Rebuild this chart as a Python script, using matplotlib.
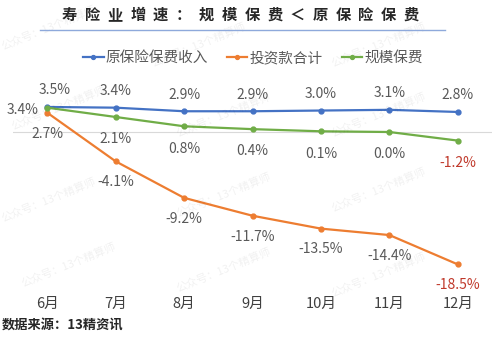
import matplotlib
matplotlib.use("Agg")
import matplotlib.pyplot as plt

plt.rcParams['font.family'] = ['Noto Sans CJK SC', 'DejaVu Sans']

months = ["6月", "7月", "8月", "9月", "10月", "11月", "12月"]
yuan_baofei = [3.5, 3.4, 2.9, 2.9, 3.0, 3.1, 2.8]       # 原保险保费收入
touzikuan = [2.7, -4.1, -9.2, -11.7, -13.5, -14.4, -18.5]  # 投资款合计
guimo = [3.4, 2.1, 0.8, 0.4, 0.1, 0.0, -1.2]              # 规模保费
names = ["原保险保费收入", "投资款合计", "规模保费"]

title = "寿险业增速：规模保费＜原保险保费"
source = "数据来源：13精资讯"
watermark = "公众号：13个精算师"

c_blue = "#4472C4"
c_orange = "#ED7D31"
c_green = "#70AD47"
c_text = "#595959"
c_red = "#C0392B"

W, H = 500, 341
fig = plt.figure(figsize=(W / 100, H / 100), dpi=100)
ax = fig.add_axes([13 / W, 1 - 283 / H, (492 - 13) / W, (283 - 90) / H])

x = list(range(len(months)))
ax.axhline(0, color="#d9d9d9", lw=0.8, zorder=1)
l1, = ax.plot(x, yuan_baofei, color=c_blue, lw=1.6, marker="o", ms=3.5, zorder=3)
l2, = ax.plot(x, touzikuan, color=c_orange, lw=1.6, marker="o", ms=3.5, zorder=3)
l3, = ax.plot(x, guimo, color=c_green, lw=1.6, marker="o", ms=3.5, zorder=3)

ax.set_xlim(-0.5, 6.5)
ax.set_ylim(-21.1, 5.87)
ax.set_yticks([])
ax.set_xticks(x)
ax.set_xticklabels(months, fontsize=10.5, color="#404040")
ax.tick_params(axis="x", length=0, pad=10)
for s in ax.spines.values():
    s.set_visible(False)

fs = 10
for i, v in enumerate(yuan_baofei):
    dx = 5 if i == 0 else 0
    ax.annotate(f"{v:.1f}%", (i, v), xytext=(dx, 12), textcoords="offset points",
                ha="center", va="center", fontsize=fs, color=c_text)
for i, v in enumerate(guimo):
    if i == 0:
        ax.annotate(f"{v:.1f}%", (i, v), xytext=(-18, -2), textcoords="offset points",
                    ha="center", va="center", fontsize=fs, color=c_text)
    else:
        col = c_red if i == len(guimo) - 1 else c_text
        ax.annotate(f"{v:.1f}%", (i, v), xytext=(0, -16), textcoords="offset points",
                    ha="center", va="center", fontsize=fs, color=col)
for i, v in enumerate(touzikuan):
    col = c_red if i == len(touzikuan) - 1 else c_text
    ax.annotate(f"{v:.1f}%", (i, v), xytext=(0, -15), textcoords="offset points",
                ha="center", va="center", fontsize=fs, color=col)

# spaced-out title
x0, x1 = 69.5, 411.5
step = (x1 - x0) / (len(title) - 1)
for k, ch in enumerate(title):
    fig.text((x0 + k * step) / W, 1 - 15 / H, ch, ha="center", va="center",
             fontsize=11, fontweight="bold", color="#262626")
fig.add_artist(plt.Line2D([40 / W, 445 / W], [1 - 30 / H, 1 - 30 / H],
                          color="#8EA9DB", lw=1.0, transform=fig.transFigure))

fig.legend([l1, l2, l3], names, loc="center", bbox_to_anchor=(253 / W, 1 - 58 / H),
           ncol=3, frameon=False, fontsize=10.5, handlelength=1.4, handletextpad=0.15,
           columnspacing=1.3, labelcolor=c_text, markerscale=0.8)

fig.text(2 / W, 1 - 325 / H, source, ha="left", va="center", fontsize=9.5,
         fontweight="bold", color="#262626")

# faint watermarks
for (wx, wy) in [(0, 28), (150, 45), (330, 45), (10, 108), (175, 115),
                 (330, 115), (0, 200), (175, 195), (330, 190),
                 (20, 265), (175, 270), (330, 275)]:
    fig.text(wx / W, 1 - wy / H, watermark, ha="left", va="center", fontsize=8,
             color="#000000", alpha=0.06, rotation=22, zorder=0)

fig.savefig("out.png", dpi=100)
